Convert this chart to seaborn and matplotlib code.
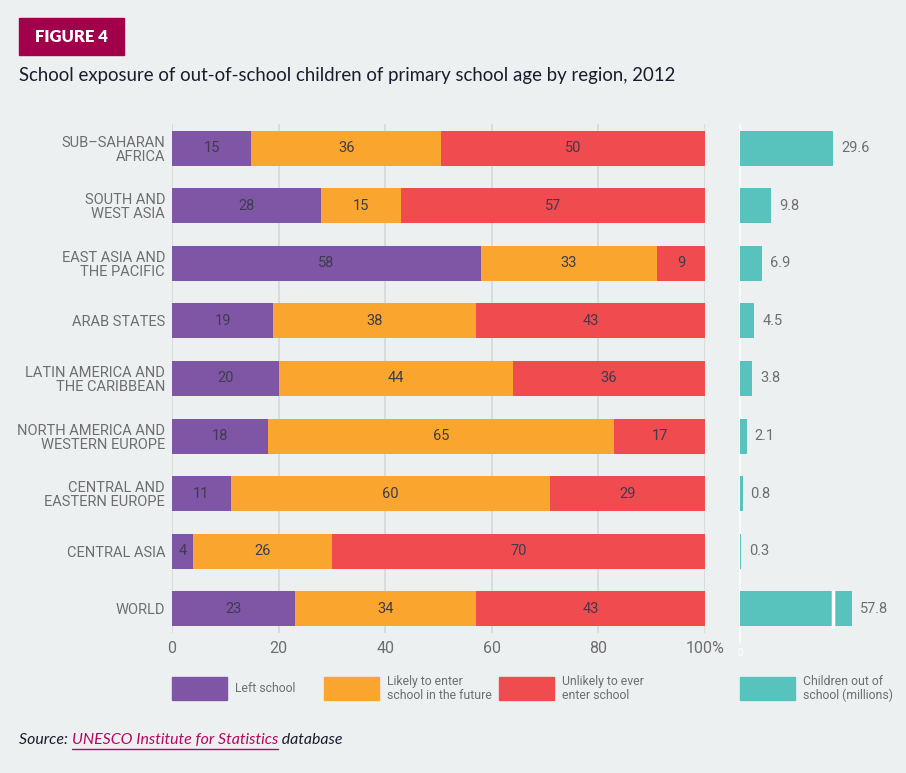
import numpy as np
import pandas as pd
import seaborn as sns
import matplotlib.pyplot as plt
from matplotlib.patches import Rectangle

# data
regions = ["SUB–SAHARAN\nAFRICA", "SOUTH AND\nWEST ASIA", "EAST ASIA AND\nTHE PACIFIC",
           "ARAB STATES", "LATIN AMERICA AND\nTHE CARIBBEAN", "NORTH AMERICA AND\nWESTERN EUROPE",
           "CENTRAL AND\nEASTERN EUROPE", "CENTRAL ASIA", "WORLD"]
left_school = [15, 28, 58, 19, 20, 18, 11, 4, 23]
likely_enter = [36, 15, 33, 38, 44, 65, 60, 26, 34]
unlikely_enter = [50, 57, 9, 43, 36, 17, 29, 70, 43]
children_millions = [29.6, 9.8, 6.9, 4.5, 3.8, 2.1, 0.8, 0.3, 57.8]
pct_ticks = [0, 20, 40, 60, 80, 100]
pct_tick_labels = ["0", "20", "40", "60", "80", "100%"]
legend_labels = ["Left school", "Likely to enter\nschool in the future",
                 "Unlikely to ever\nenter school", "Children out of\nschool (millions)"]

# world bar is drawn with an axis break
axis_break = 29.6
clip_len = 35.7

bg = "#EDF0F1"
purple = "#7F56A5"
orange = "#FAA62E"
red = "#F04B4F"
teal = "#58C3BC"
label_gray = "#6E6E70"
value_dark = "#3E3C4C"

sns.set_theme(style="white")
plt.rcParams["font.family"] = ["Roboto", "DejaVu Sans"]

df = pd.DataFrame({"region": regions, "left": left_school, "likely": likely_enter,
                   "unlikely": unlikely_enter, "children": children_millions})
tot = df[["left", "likely", "unlikely"]].sum(axis=1)
df["c1"] = df["left"] / tot * 100
df["c2"] = (df["left"] + df["likely"]) / tot * 100
df["c3"] = 100.0
df["child_draw"] = df["children"].clip(upper=clip_len)

W, H = 906, 773
fig = plt.figure(figsize=(W / 100, H / 100), dpi=100, facecolor=bg)

def fx(px):
    return px / W

def fy(py):
    return 1 - py / H

top, bottom = 124, 633
ax = fig.add_axes([fx(172), fy(bottom), fx(705) - fx(172), (bottom - top) / H])
ax.set_facecolor("none")
bw = 0.61
for col, c in [("c3", red), ("c2", orange), ("c1", purple)]:
    sns.barplot(data=df, x=col, y="region", orient="h", color=c, saturation=1,
                width=bw, linewidth=0, ax=ax, zorder=2)
n = len(df)
ax.set_ylim(n - 1 + 0.42, -0.42)
ax.set_xlim(0, 100)
ax.set_xlabel("")
ax.set_ylabel("")
for t in pct_ticks:
    ax.axvline(t, color="#D6D9DB", lw=1.2, zorder=0)
ax.set_xticks(pct_ticks)
ax.set_xticklabels(pct_tick_labels, fontsize=11.5, color=label_gray)
ax.tick_params(axis="x", length=0, pad=6)
ax.tick_params(axis="y", length=0, pad=5)
for lab in ax.get_yticklabels():
    lab.set_fontsize(10.5)
    lab.set_color(label_gray)
    lab.set_linespacing(1.0)
for s in ax.spines.values():
    s.set_visible(False)

starts = np.column_stack([np.zeros(n), df["c1"], df["c2"]])
ends = np.column_stack([df["c1"], df["c2"], df["c3"]])
vals = df[["left", "likely", "unlikely"]].to_numpy()
for i in range(n):
    for j in range(3):
        ax.text((starts[i, j] + ends[i, j]) / 2, i, str(vals[i, j]), ha="center",
                va="center", fontsize=10.5, color=value_dark, zorder=3)

# right panel: children out of school
px_per_m = 3.14
ax2 = fig.add_axes([fx(740), fy(bottom), 160 / W, (bottom - top) / H])
ax2.set_facecolor("none")
sns.barplot(data=df, x="child_draw", y="region", orient="h", color=teal, saturation=1,
            width=bw, linewidth=0, ax=ax2, zorder=2)
ax2.set_ylim(n - 1 + 0.42, -0.42)
ax2.set_xlim(0, 160 / px_per_m)
ax2.axvline(0, color="#F8F9F9", lw=1.5, zorder=1, ymin=-0.02, clip_on=False)
ax2.set_xticks([])
ax2.set_yticks([])
ax2.set_xlabel("")
ax2.set_ylabel("")
for s in ax2.spines.values():
    s.set_visible(False)
for i, v in enumerate(df["children"]):
    ax2.text(df["child_draw"][i] + 8 / px_per_m, i, f"{v:.1f}", ha="left", va="center",
             fontsize=10.5, color=label_gray)
    if v > clip_len:
        ax2.vlines(axis_break, i - bw / 2 - 0.02, i + bw / 2 + 0.02, color="white",
                   lw=2.5, zorder=3)
ax2.text(0, -0.03, "0", transform=ax2.get_xaxis_transform(), ha="center", va="top",
         fontsize=7, color="white")

# header
fig.patches.append(Rectangle((fx(19), fy(55)), 105 / W, 37 / H, transform=fig.transFigure,
                             color="#A3004B"))
fig.text(fx(71.5), fy(36.5), "FIGURE 4", ha="center", va="center", color="white",
         fontsize=12, fontweight="heavy", family=["Lato", "DejaVu Sans"])
fig.text(fx(19), fy(75), "School exposure of out-of-school children of primary school age by region, 2012",
         ha="left", va="center", color="#1B1B2B", fontsize=13.4, family=["Lato", "DejaVu Sans"])

# legend
leg_items = [(172, purple), (324, orange), (499, red), (740, teal)]
for (x0, c), lab in zip(leg_items, legend_labels):
    fig.patches.append(Rectangle((fx(x0), fy(700)), 55 / W, 23 / H, transform=fig.transFigure,
                                 color=c))
    fig.text(fx(x0 + 63), fy(688.5), lab, ha="left", va="center", fontsize=8.8,
             color=label_gray, linespacing=1.15)

# source line
r = fig.canvas.get_renderer()
sy = fy(740)
t1 = fig.text(fx(19), sy, "Source: ", ha="left", va="center", fontsize=11.4, style="italic",
              color="#1B1B2B", family=["Lato", "DejaVu Sans"])
x1 = fig.transFigure.inverted().transform(t1.get_window_extent(r))[1, 0]
t2 = fig.text(x1, sy, "UNESCO Institute for Statistics", ha="left", va="center", fontsize=11.4,
              style="italic", color="#B8065E", family=["Lato", "DejaVu Sans"])
bb2 = fig.transFigure.inverted().transform(t2.get_window_extent(r))
fig.lines.append(plt.Line2D([bb2[0, 0], bb2[1, 0]], [bb2[0, 1] - 0.002, bb2[0, 1] - 0.002],
                            transform=fig.transFigure, color="#B8065E", lw=1))
fig.text(bb2[1, 0], sy, " database", ha="left", va="center", fontsize=11.4, style="italic",
         color="#1B1B2B", family=["Lato", "DejaVu Sans"])

fig.savefig("out.png", dpi=100, facecolor=bg)
